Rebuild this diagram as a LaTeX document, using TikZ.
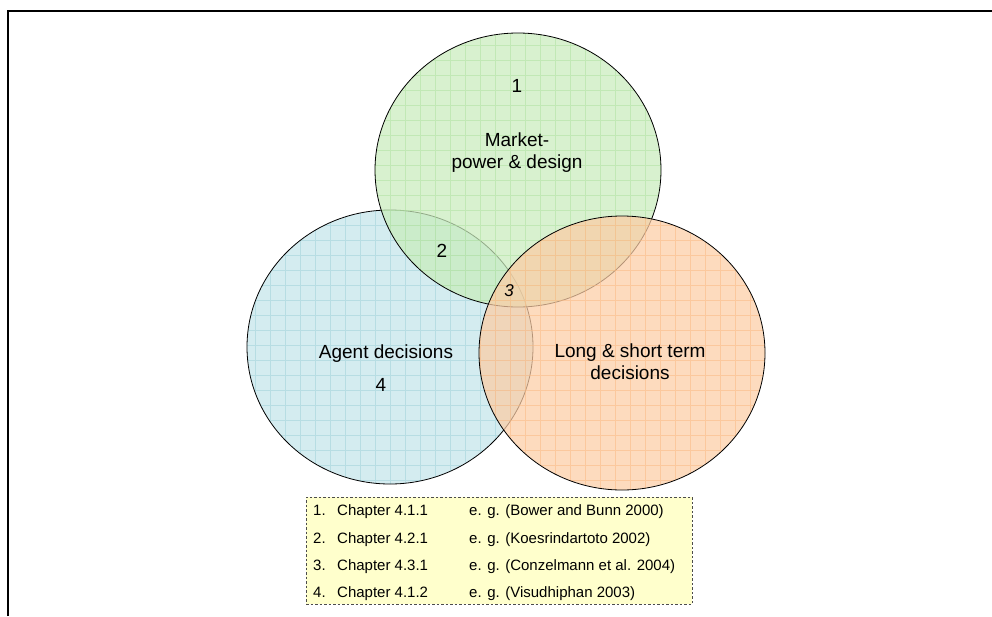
\documentclass[tikz,border=0pt]{standalone}
\usepackage{fontspec}
\setmainfont{Liberation Sans}
\definecolor{bluefill}{RGB}{196,228,234}
\definecolor{bluegrid}{RGB}{160,210,218}
\definecolor{greenfill}{RGB}{201,236,188}
\definecolor{greengrid}{RGB}{175,225,160}
\definecolor{orangefill}{RGB}{252,205,165}
\definecolor{orangegrid}{RGB}{250,185,130}
\definecolor{notefill}{RGB}{255,255,204}
\begin{document}
\begin{tikzpicture}[x=1pt,y=-1pt,
  outline/.style={draw=black, line width=0.8pt},
  tint/.style={fill opacity=0.72},
  gridlines/.style={line width=0.6pt, draw opacity=0.55, step=15pt},
  biglabel/.style={font=\fontsize{19}{22}\selectfont, align=center, inner sep=0pt},
  rowtext/.style={font=\fontsize{15}{18}\selectfont, anchor=base west, inner sep=0pt},
]
\useasboundingbox (0,0) rectangle (992,616);

% outer frame (left and top edges only)
\draw[line width=2pt] (8,616) -- (8,11) -- (992,11);

% centres of the three sets
\coordinate (cA) at (390,347);
\coordinate (cM) at (518,170);
\coordinate (cL) at (622,353);

% agent decisions (bottom left)
\begin{scope}
  \clip (cA) ellipse [x radius=143, y radius=137];
  \fill[bluefill, tint] (240,200) rectangle (540,490);
  \draw[bluegrid, gridlines] (240,195) grid (540,495);
\end{scope}
\draw[outline] (cA) ellipse [x radius=143, y radius=137];

% market power and design (top)
\begin{scope}
  \clip (cM) ellipse [x radius=143, y radius=137];
  \fill[greenfill, tint] (370,30) rectangle (670,310);
  \draw[greengrid, gridlines] (360,30) grid (675,315);
\end{scope}
\draw[outline] (cM) ellipse [x radius=143, y radius=137];

% long and short term decisions (bottom right)
\begin{scope}
  \clip (cL) ellipse [x radius=143, y radius=137];
  \fill[orangefill, tint] (475,210) rectangle (770,495);
  \draw[orangegrid, gridlines] (465,210) grid (780,495);
\end{scope}
\draw[outline] (cL) ellipse [x radius=143, y radius=137];

% set labels
\node[biglabel] (n1) at (517,86) {1};
\node[biglabel] (market) at (517,153) {Market-\\power \& design};
\node[biglabel] (n2) at (442,251) {2};
\node[biglabel, font=\fontsize{17}{20}\selectfont\itshape] (n3) at (509,291) {3};
\node[biglabel] (agent) at (386,354) {Agent decisions};
\node[biglabel] (n4) at (381,385) {4};
\node[biglabel] (longshort) at (630,362) {Long \& short term\\decisions};

% legend box
\node[draw=black!70, dashed, dash pattern=on 2.5pt off 2pt, fill=notefill, line width=0.8pt,
      minimum width=386pt, minimum height=107pt, inner sep=0pt] (legend) at (499,550.5) {};

\node[rowtext] (r1a) at (313,515.5) {1.};
\node[rowtext] (r1b) at (337,515.5) {Chapter 4.1.1};
\node[rowtext] (r1c) at (469,515.5) {e. g. (Bower and Bunn 2000)};
\node[rowtext] (r2a) at (313,543) {2.};
\node[rowtext] (r2b) at (337,543) {Chapter 4.2.1};
\node[rowtext] (r2c) at (469,543) {e. g. (Koesrindartoto 2002)};
\node[rowtext] (r3a) at (313,570) {3.};
\node[rowtext] (r3b) at (337,570) {Chapter 4.3.1};
\node[rowtext] (r3c) at (469,570) {e. g. (Conzelmann et al. 2004)};
\node[rowtext] (r4a) at (313,597) {4.};
\node[rowtext] (r4b) at (337,597) {Chapter 4.1.2};
\node[rowtext] (r4c) at (469,597) {e. g. (Visudhiphan 2003)};
\end{tikzpicture}
\end{document}
